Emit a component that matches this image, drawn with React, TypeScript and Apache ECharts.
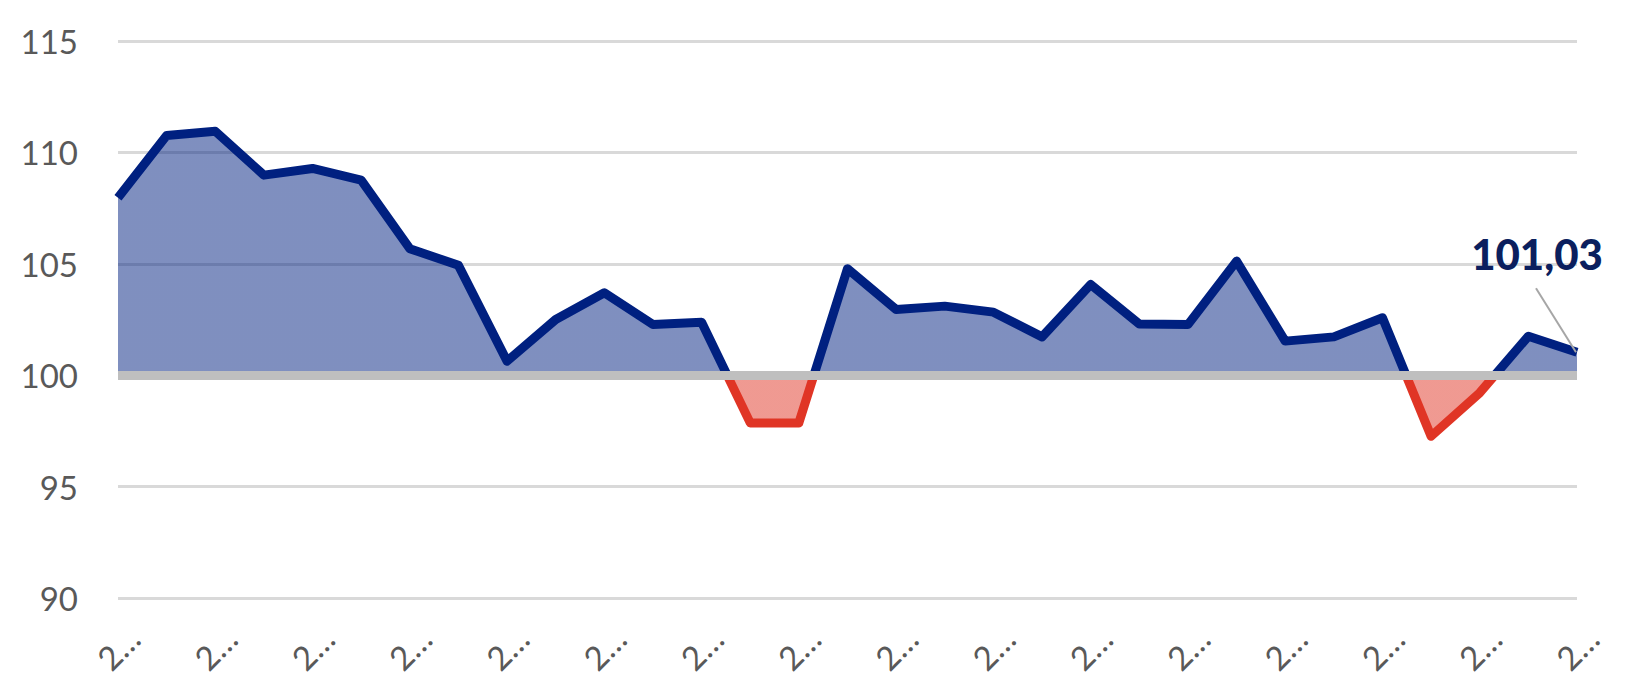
import React, { useEffect, useRef } from "react";
import * as echarts from "echarts";

const categories = [
  "2…", "2…", "2…", "2…", "2…", "2…", "2…", "2…", "2…", "2…", "2…",
  "2…", "2…", "2…", "2…", "2…", "2…", "2…", "2…", "2…", "2…", "2…",
  "2…", "2…", "2…", "2…", "2…", "2…", "2…", "2…", "2…",
];

const values = [
  107.96, 110.76, 110.95, 108.98, 109.28, 108.76, 105.68, 104.93, 100.63, 102.5,
  103.7, 102.28, 102.38, 97.86, 97.86, 104.78, 102.95, 103.1, 102.83, 101.72,
  104.07, 102.3, 102.27, 105.12, 101.53, 101.72, 102.58, 97.26, 99.21, 101.75,
  101.03,
];

const baseline = 100;
const yMin = 90;
const yMax = 115;
const yStep = 5;
const lastLabel = "101,03";

const NAVY = "#002080";
const RED = "#e03525";
const FONT = "Lato, 'Noto Sans', sans-serif";

export default function App() {
  const ref = useRef<HTMLDivElement>(null);

  useEffect(() => {
    document.body.style.margin = "0";
    if (!ref.current) return;
    const chart = echarts.init(ref.current, undefined, { renderer: "svg" });
    chart.setOption({
      animation: false,
      backgroundColor: "#ffffff",
      grid: { left: 118, right: 73, top: 41, bottom: 94 },
      visualMap: {
        type: "piecewise",
        show: false,
        seriesIndex: 0,
        dimension: 1,
        pieces: [
          { gte: 0, lt: baseline, color: RED },
          { gte: baseline, lte: 1000, color: NAVY },
        ],
        outOfRange: { color: NAVY },
      },
      xAxis: {
        type: "category",
        data: categories,
        boundaryGap: false,
        axisLine: { show: false },
        axisTick: { show: false },
        splitLine: { show: false },
        axisLabel: {
          interval: 1,
          rotate: 45,
          align: "center",
          verticalAlign: "middle",
          margin: 50,
          fontSize: 33,
          color: "#595959",
          fontFamily: FONT,
        },
      },
      yAxis: {
        type: "value",
        min: yMin,
        max: yMax,
        interval: yStep,
        axisLine: { show: false },
        axisTick: { show: false },
        axisLabel: {
          margin: 40,
          fontSize: 33,
          color: "#595959",
          fontFamily: FONT,
        },
        splitLine: { lineStyle: { color: "#d9d9d9", width: 3 } },
      },
      series: [
        {
          type: "line",
          data: values,
          symbol: "none",
          lineStyle: { width: 9, join: "round" },
          areaStyle: { origin: baseline, opacity: 0.5 },
          z: 2,
          markLine: {
            silent: true,
            symbol: "none",
            label: { show: false },
            lineStyle: { color: "#bfbfbf", width: 9, type: "solid" },
            data: [{ yAxis: baseline }],
            z: 5,
          },
        },
      ],
    });

    const lastIdx = values.length - 1;
    const p = chart.convertToPixel({ xAxisIndex: 0, yAxisIndex: 0 }, [
      lastIdx,
      values[lastIdx],
    ]) as number[];
    if (p && p.length === 2) {
      const [px, py] = p;
      chart.setOption({
        graphic: [
          {
            type: "line",
            shape: { x1: px - 41, y1: py - 64, x2: px - 1, y2: py },
            style: { stroke: "#a6a6a6", lineWidth: 2 },
            z: 10,
          },
          {
            type: "text",
            x: px - 40,
            y: py - 98,
            z: 10,
            style: {
              text: lastLabel,
              fill: "#0b1f5e",
              font: `900 42px ${FONT}`,
              textAlign: "center",
              textVerticalAlign: "middle",
            },
          },
        ],
      });
    }

    return () => chart.dispose();
  }, []);

  return <div ref={ref} style={{ width: 1650, height: 692 }} />;
}
